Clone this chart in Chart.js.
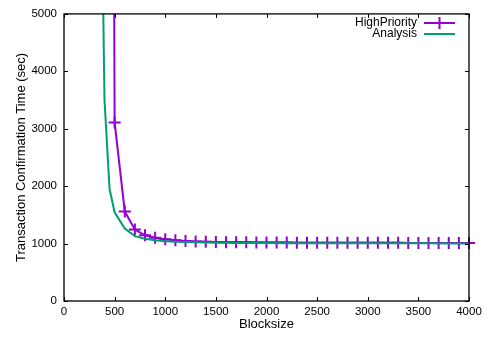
<!DOCTYPE html>
<html>
<head>
<meta charset="utf-8">
<script src="https://cdn.jsdelivr.net/npm/chart.js@4/dist/chart.umd.min.js"></script>
<style>
  html, body { margin: 0; padding: 0; background: #fff; }
  canvas { display: block; }
</style>
</head>
<body>
<canvas id="chart" width="489" height="337"></canvas>
<script>
"use strict";

// Block sizes sampled for each series
const highPriorityBlocks = [400, 500, 600, 700, 800, 900, 1000, 1100, 1200, 1300, 1400, 1500,
    1600, 1700, 1800, 1900, 2000, 2100, 2200, 2300, 2400, 2500, 2600, 2700, 2800, 2900,
    3000, 3100, 3200, 3300, 3400, 3500, 3600, 3700, 3800, 3900, 4000];
const highPriorityTimes = [50000, 3110, 1560, 1245, 1145, 1100, 1075, 1058, 1046, 1038, 1032, 1028,
    1025, 1023, 1021, 1020, 1019, 1018, 1017, 1016, 1016, 1015, 1015, 1014, 1014, 1014,
    1013, 1013, 1013, 1013, 1012, 1012, 1012, 1012, 1012, 1011, 1011];

const analysisBlocks = [350, 400, 450, 500, 600, 700, 800, 900, 1000, 1100, 1200, 1300, 1400, 1500,
    1600, 1700, 1800, 1900, 2000, 2200, 2400, 2600, 2800, 3000, 3200, 3400, 3600, 3800, 4000];
const analysisTimes = [9750, 3500, 1950, 1545, 1260, 1130, 1085, 1058, 1042, 1032, 1026, 1021, 1018, 1015,
    1013, 1011, 1010, 1009, 1008, 1007, 1006, 1006, 1005, 1005, 1004, 1004, 1004, 1003, 1003];

const seriesNames = ["HighPriority", "Analysis"];
const seriesColors = ["#9400d3", "#009e73"];

const xTicks = [0, 500, 1000, 1500, 2000, 2500, 3000, 3500, 4000];
const yTicks = [0, 1000, 2000, 3000, 4000, 5000];

const FONT = "'Liberation Sans', Arial, Helvetica, sans-serif";

function toPoints(xs, ys) {
    return xs.map((x, i) => ({ x: x, y: ys[i] }));
}

// gnuplot style frame with inward ticks on all four sides, plus the key
const framePlugin = {
    id: 'frame',
    afterDatasetsDraw(chart) {
        const ctx = chart.ctx;
        const area = chart.chartArea;
        const xs = chart.scales.x;
        const ys = chart.scales.y;
        const tick = 4;

        ctx.save();
        ctx.strokeStyle = '#000';
        ctx.lineWidth = 1.3;
        ctx.strokeRect(area.left, area.top, area.right - area.left, area.bottom - area.top);

        ctx.lineWidth = 1;
        ctx.beginPath();
        xTicks.forEach(v => {
            const px = Math.round(xs.getPixelForValue(v)) + 0.5;
            ctx.moveTo(px, area.bottom);
            ctx.lineTo(px, area.bottom - tick);
            ctx.moveTo(px, area.top);
            ctx.lineTo(px, area.top + tick);
        });
        yTicks.forEach(v => {
            const py = Math.round(ys.getPixelForValue(v)) + 0.5;
            ctx.moveTo(area.left, py);
            ctx.lineTo(area.left + tick, py);
            ctx.moveTo(area.right, py);
            ctx.lineTo(area.right - tick, py);
        });
        ctx.stroke();

        // key in the top right corner
        const textRight = 417;
        const lineStart = 424;
        const lineEnd = 455;
        const rowY = [23, 34];
        ctx.font = '12px ' + FONT;
        ctx.textAlign = 'right';
        ctx.textBaseline = 'middle';
        chart.data.datasets.forEach((ds, i) => {
            const y = rowY[i];
            ctx.fillStyle = '#000';
            ctx.fillText(ds.label, textRight, y);
            ctx.strokeStyle = ds.borderColor;
            ctx.lineWidth = 2;
            ctx.beginPath();
            ctx.moveTo(lineStart, y);
            ctx.lineTo(lineEnd, y);
            if (ds.pointRadius > 0) {
                const cx = (lineStart + lineEnd) / 2;
                const r = ds.pointRadius;
                ctx.moveTo(cx, y - r);
                ctx.lineTo(cx, y + r);
            }
            ctx.stroke();
        });
        ctx.restore();
    }
};

const ctx = document.getElementById('chart').getContext('2d');
Chart.defaults.font.family = FONT;
Chart.defaults.color = '#000';

new Chart(ctx, {
    type: 'line',
    data: {
        datasets: [
            {
                label: seriesNames[0],
                data: toPoints(highPriorityBlocks, highPriorityTimes),
                borderColor: seriesColors[0],
                backgroundColor: seriesColors[0],
                borderWidth: 2,
                pointStyle: 'cross',
                pointRadius: 6,
                pointBorderWidth: 2,
                pointBorderColor: seriesColors[0],
                tension: 0,
                fill: false,
                order: 2,
                clip: { left: 0, top: 0, right: 10, bottom: 0 }
            },
            {
                label: seriesNames[1],
                data: toPoints(analysisBlocks, analysisTimes),
                borderColor: seriesColors[1],
                backgroundColor: seriesColors[1],
                borderWidth: 2,
                pointRadius: 0,
                tension: 0,
                fill: false,
                order: 1,
                clip: 0
            }
        ]
    },
    options: {
        responsive: false,
        animation: false,
        events: [],
        layout: { padding: { top: 12, right: 20, left: 0, bottom: 0 } },
        plugins: {
            legend: { display: false },
            tooltip: { enabled: false }
        },
        scales: {
            x: {
                type: 'linear',
                min: 0,
                max: 4000,
                grid: { display: false, drawTicks: false },
                border: { display: false },
                afterBuildTicks: scale => { scale.ticks = xTicks.map(v => ({ value: v })); },
                afterFit: scale => { scale.height = 36; },
                ticks: {
                    padding: 4,
                    maxRotation: 0,
                    font: { size: 11.5 },
                    callback: v => String(v)
                },
                title: {
                    display: true,
                    text: 'Blocksize',
                    font: { size: 13 },
                    padding: { top: 0, bottom: 5 }
                }
            },
            y: {
                type: 'linear',
                min: 0,
                max: 5000,
                grid: { display: false, drawTicks: false },
                border: { display: false },
                afterBuildTicks: scale => { scale.ticks = yTicks.map(v => ({ value: v })); },
                afterFit: scale => { scale.width = 64; },
                ticks: {
                    padding: 7,
                    font: { size: 11.5 },
                    callback: v => String(v)
                },
                title: {
                    display: true,
                    text: 'Transaction Confirmation Time (sec)',
                    font: { size: 13 },
                    padding: { top: 14, bottom: 0 }
                }
            }
        }
    },
    plugins: [framePlugin]
});
</script>
</body>
</html>
